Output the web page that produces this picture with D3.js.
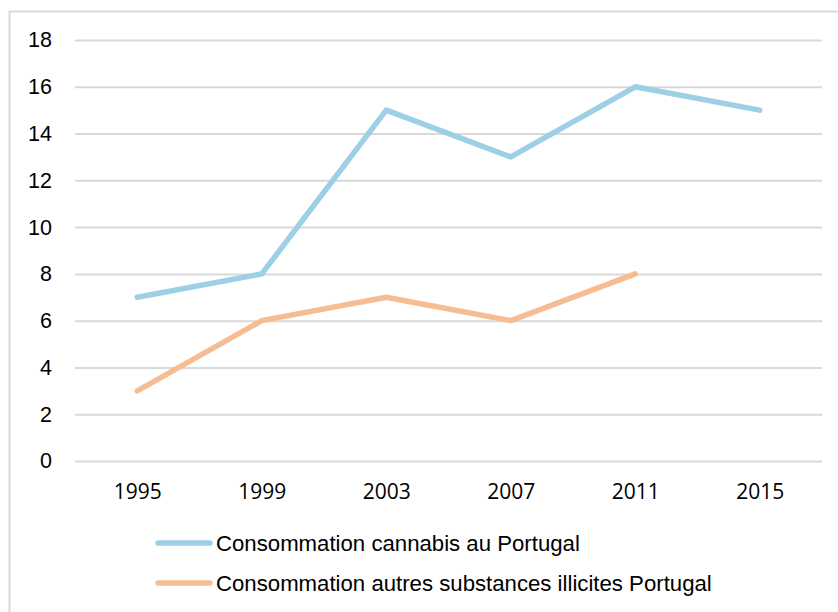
<!DOCTYPE html>
<html>
<head>
<meta charset="utf-8">
<script src="https://cdn.jsdelivr.net/npm/d3@7/dist/d3.min.js"></script>
<style>
  html, body { margin: 0; padding: 0; background: #fff; }
  svg { display: block; }
</style>
</head>
<body>
<svg id="chart" width="838" height="612"></svg>
<script>
// Survey years and prevalence values (%)
const years = ["1995", "1999", "2003", "2007", "2011", "2015"];
const cannabis = [7, 8, 15, 13, 16, 15];
const autres = [3, 6, 7, 6, 8, null];
const yTicks = [0, 2, 4, 6, 8, 10, 12, 14, 16, 18];
const seriesNames = [
  "Consommation cannabis au Portugal",
  "Consommation autres substances illicites Portugal"
];
const seriesColors = ["#9dcfe6", "#f6bd92"];

(function draw() {
  const svg = d3.select("#chart");

  // Outer frame
  svg.append("rect")
    .attr("x", 9.5).attr("y", 11.5)
    .attr("width", 900).attr("height", 700)
    .attr("fill", "none").attr("stroke", "#d9d9d9").attr("stroke-width", 2);

  const plotLeft = 75, plotRight = 822, plotTop = 40, plotBottom = 461;

  const x = d3.scalePoint().domain(years).range([plotLeft, plotRight]).padding(0.5);
  const y = d3.scaleLinear().domain([0, 18]).range([plotBottom, plotTop]);

  // Horizontal gridlines + y labels
  const yAxis = d3.axisLeft(y).tickValues(yTicks).tickSize(-(plotRight - plotLeft)).tickPadding(23);
  const gy = svg.append("g").attr("transform", `translate(${plotLeft},0)`).call(yAxis);
  gy.select(".domain").remove();
  gy.selectAll(".tick line").attr("stroke", "#d9d9d9").attr("stroke-width", 2);
  gy.selectAll(".tick text")
    .attr("fill", "#000")
    .style("font-family", "'Liberation Sans', Arial, sans-serif")
    .style("font-size", "21.5px");

  // x labels
  const xAxis = d3.axisBottom(x).tickSize(0).tickPadding(23);
  const gx = svg.append("g").attr("transform", `translate(0,${plotBottom})`).call(xAxis);
  gx.select(".domain").remove();
  gx.selectAll(".tick text")
    .attr("fill", "#000")
    .style("font-family", "'Open Sans', sans-serif")
    .style("font-size", "21px");

  // Series lines
  const line = d3.line()
    .defined(d => d != null)
    .x((d, i) => x(years[i]))
    .y(d => y(d));

  [cannabis, autres].forEach((vals, k) => {
    svg.append("path")
      .datum(vals)
      .attr("d", line)
      .attr("fill", "none")
      .attr("stroke", seriesColors[k])
      .attr("stroke-width", 5.5)
      .attr("stroke-linecap", "round")
      .attr("stroke-linejoin", "round");
  });

  // Legend
  const legend = svg.append("g");
  seriesNames.forEach((name, k) => {
    const ly = 543 + k * 40;
    legend.append("line")
      .attr("x1", 158).attr("x2", 210)
      .attr("y1", ly).attr("y2", ly)
      .attr("stroke", seriesColors[k])
      .attr("stroke-width", 5.5)
      .attr("stroke-linecap", "round");
    legend.append("text")
      .attr("x", 216).attr("y", ly)
      .attr("dy", "0.35em")
      .attr("fill", "#000")
      .style("font-family", "'Liberation Sans', Arial, sans-serif")
      .style("font-size", "22.2px")
      .text(name);
  });
})();
</script>
</body>
</html>
